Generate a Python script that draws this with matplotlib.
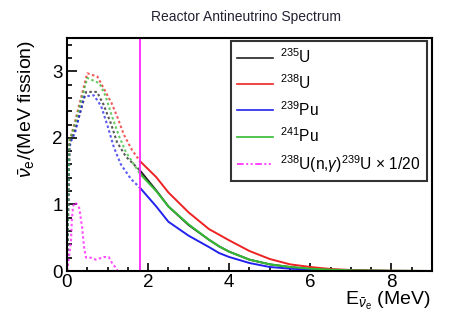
import matplotlib
matplotlib.use("Agg")
import matplotlib.pyplot as plt
from matplotlib.lines import Line2D
from matplotlib.ticker import MultipleLocator
import numpy as np

plt.rcParams['font.family'] = ['Liberation Sans', 'DejaVu Sans']
plt.rcParams['mathtext.fontset'] = 'custom'
plt.rcParams['mathtext.rm'] = 'Liberation Sans'
plt.rcParams['mathtext.it'] = 'Liberation Sans:italic'
plt.rcParams['mathtext.bf'] = 'Liberation Sans:bold'

threshold = 1.8

E_u235 = [0, 0.06, 0.1, 0.2, 0.47, 0.74, 0.9, 1.08, 1.23, 1.45, 1.8, 2.2, 2.5, 3.0, 3.5, 3.75, 4.0, 4.5, 5.0, 5.5, 6.0, 6.5, 7.0, 8.0, 9.0]
S_u235 = [0, 1.9, 1.98, 2.12, 2.69, 2.69, 2.5, 2.22, 1.94, 1.72, 1.51, 1.21, 0.97, 0.69, 0.47, 0.37, 0.29, 0.17, 0.1, 0.06, 0.03, 0.015, 0.008, 0.002, 0.0]

E_u238 = [0, 0.06, 0.1, 0.2, 0.5, 0.75, 0.9, 1.1, 1.25, 1.4, 1.6, 1.8, 2.2, 2.5, 3.0, 3.5, 4.0, 4.5, 5.0, 5.5, 6.0, 6.5, 7.0, 7.5, 8.0, 9.0]
S_u238 = [0, 1.95, 2.03, 2.25, 2.97, 2.92, 2.75, 2.52, 2.3, 2.05, 1.82, 1.65, 1.41, 1.18, 0.88, 0.63, 0.46, 0.3, 0.18, 0.1, 0.06, 0.03, 0.015, 0.007, 0.003, 0.0]

E_pu239 = [0, 0.06, 0.1, 0.2, 0.42, 0.66, 0.84, 1.0, 1.16, 1.33, 1.58, 1.8, 2.2, 2.5, 3.0, 3.5, 3.75, 4.0, 4.5, 5.0, 5.5, 6.0, 6.5, 7.0, 8.0]
S_pu239 = [0, 1.85, 1.95, 2.08, 2.62, 2.64, 2.48, 2.18, 1.85, 1.6, 1.38, 1.25, 0.97, 0.74, 0.53, 0.36, 0.27, 0.21, 0.12, 0.06, 0.035, 0.02, 0.01, 0.004, 0.0]

E_pu241 = [0, 0.06, 0.1, 0.2, 0.5, 0.8, 0.95, 1.1, 1.28, 1.45, 1.8, 2.2, 2.5, 3.0, 3.5, 3.75, 4.0, 4.5, 5.0, 5.5, 6.0, 6.5, 7.0, 8.0, 9.0]
S_pu241 = [0, 1.95, 2.02, 2.22, 2.9, 2.82, 2.63, 2.34, 2.03, 1.79, 1.46, 1.2, 0.97, 0.7, 0.47, 0.37, 0.29, 0.17, 0.1, 0.06, 0.035, 0.02, 0.01, 0.003, 0.001]

E_ncap = [0, 0.05, 0.1, 0.12, 0.15, 0.19, 0.25, 0.3, 0.37, 0.42, 0.47, 0.59, 0.71, 0.91, 1.03, 1.11, 1.2, 1.25]
S_ncap = [0, 0.21, 0.47, 0.77, 0.97, 1.03, 1.0, 0.95, 0.67, 0.36, 0.2, 0.2, 0.17, 0.21, 0.21, 0.12, 0.05, 0.0]

series = [
    (E_u235, S_u235, '#222222', r'$^{235}$U'),
    (E_u238, S_u238, '#ee2222', r'$^{238}$U'),
    (E_pu239, S_pu239, '#2222ee', r'$^{239}$Pu'),
    (E_pu241, S_pu241, '#33bb33', r'$^{241}$Pu'),
]
ncap_label = r'$^{238}$U(n,$\gamma$)$^{239}$U $\times$ 1/20'
ncap_color = '#ff22ff'

W, H = 456, 324
fig = plt.figure(figsize=(W / 100, H / 100), dpi=100)
ax = fig.add_axes([67 / W, (H - 271) / H, 365 / W, 233 / H])

dotted = (0, (1.2, 1.2))
handles = []
for E, S, c, lab in series:
    E = np.array(E); S = np.array(S)
    lo = E <= threshold
    hi = E >= threshold
    ax.plot(E[lo], S[lo], color=c, lw=1.5, ls=dotted, alpha=0.75)
    ax.plot(E[hi], S[hi], color=c, lw=1.4)
    handles.append(Line2D([], [], color=c, lw=1.2, label=lab))

ax.plot(E_ncap, S_ncap, color=ncap_color, lw=1.5, ls=dotted, alpha=0.8)
handles.append(Line2D([], [], color=ncap_color, lw=1.2, ls=(0, (4, 1.5, 1.2, 1.5, 1.2, 1.5)), label=ncap_label))

ax.axvline(threshold, color='#ff22ff', lw=1.3)

ax.set_xlim(0, 9)
ax.set_ylim(0, 3.5)
ax.xaxis.set_major_locator(MultipleLocator(2))
ax.xaxis.set_minor_locator(MultipleLocator(0.5))
ax.yaxis.set_major_locator(MultipleLocator(1))
ax.yaxis.set_minor_locator(MultipleLocator(0.2))
ax.tick_params(which='both', direction='in', top=False, right=False, width=1.2, labelsize=13.5)
ax.tick_params(axis='x', which='major', length=6, pad=2)
ax.tick_params(axis='x', which='minor', length=3)
ax.tick_params(axis='y', which='major', length=7.5, pad=3)
ax.tick_params(axis='y', which='minor', length=3.8)
for sp in ax.spines.values():
    sp.set_linewidth(1.5)

ax.set_xlabel(r'E$_{\bar{\nu}_\mathrm{e}}$ (MeV)', fontsize=14, loc='right')
ax.xaxis.set_label_coords(0.995, -0.08)
ax.set_ylabel(r'$\bar{\nu}_\mathrm{e}$/(MeV fission)', fontsize=14, loc='top')
ax.yaxis.set_label_coords(-0.08, 0.99)

fig.text(246 / W, 1 - 17 / H, 'Reactor Antineutrino Spectrum', ha='center', va='center',
         fontsize=10, color='#222233')

leg = ax.legend(handles=handles, loc='upper left', bbox_to_anchor=(0.449, 0.408, 0.537, 0.579),
                mode='expand', fontsize=11.2, frameon=True, fancybox=False, borderpad=0.4,
                labelspacing=0.5, handlelength=2.3, handletextpad=0.45, borderaxespad=0)
leg.get_frame().set_edgecolor('black')
leg.get_frame().set_linewidth(1.5)

fig.savefig('out.png', dpi=100)
